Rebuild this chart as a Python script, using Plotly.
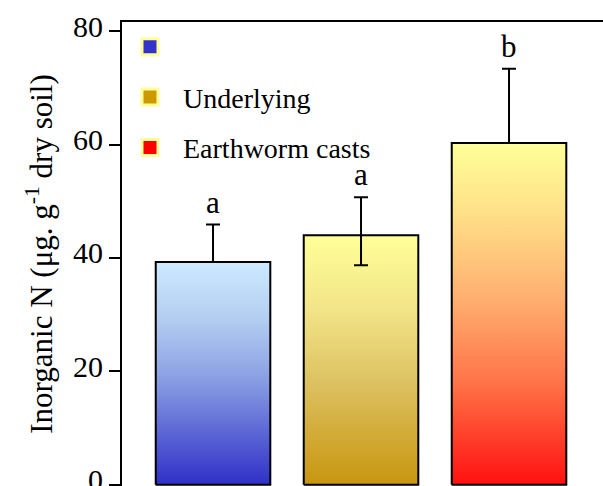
import plotly.graph_objects as go

# ---- data ----
categories = ["", "Underlying", "Earthworm casts"]
values = [39.3, 44.0, 60.25]
err_plus = [6.6, 6.7, 13.1]
err_minus = [0.0, 5.3, 0.0]
letters = ["a", "a", "b"]
y_ticks = [0, 20, 40, 60, 80]

# ---- styles ----
legend_colors = ["#3333cc", "#cc9900", "#ff0000"]
gradients = [
    [[0, "#3030c8"], [0.5, "#8ea4e4"], [0.75, "#b4cef2"], [1, "#cdeaff"]],
    [[0, "#c8960f"], [0.4, "#dcc060"], [0.7, "#f2e488"], [1, "#ffff99"]],
    [[0, "#ff1010"], [0.3, "#ff7448"], [0.55, "#ffb070"], [0.8, "#ffe088"], [1, "#ffff99"]],
]
bar_width = 0.774
FONT = "Liberation Serif"

fig = go.Figure()

# gradient bars (filled rectangles built from the data values)
for i, (v, cs) in enumerate(zip(values, gradients)):
    x0, x1 = i - bar_width / 2, i + bar_width / 2
    fig.add_trace(go.Scatter(
        x=[x0, x1, x1, x0, x0], y=[0, 0, v, v, 0],
        mode="lines", fill="toself",
        fillgradient=dict(type="vertical", colorscale=cs, start=0, stop=v),
        line=dict(color="black", width=2),
        showlegend=False, hoverinfo="skip",
    ))

# error bars
fig.add_trace(go.Scatter(
    x=list(range(len(values))), y=values, mode="markers",
    marker=dict(size=1, color="rgba(0,0,0,0)"),
    error_y=dict(type="data", symmetric=False, array=err_plus, arrayminus=err_minus,
                 color="black", thickness=2, width=7),
    showlegend=False, hoverinfo="skip",
))

# legend entries
for i, (name, c) in enumerate(zip(categories, legend_colors)):
    fig.add_trace(go.Scatter(
        x=[None], y=[None], mode="markers", name=name if name else " ",
        legendgroup=f"g{i}",
        marker=dict(symbol="square", size=20, color=c, line=dict(color="#ffff99", width=3)),
    ))

# significance letters
for i, (v, e, t) in enumerate(zip(values, err_plus, letters)):
    fig.add_annotation(x=i, y=v + e, text=t, showarrow=False, yanchor="bottom",
                       yshift=3, font=dict(family=FONT, size=31, color="black"))

fig.update_layout(
    width=603, height=486,
    margin=dict(l=122, r=0, t=22, b=0, pad=0),
    paper_bgcolor="white", plot_bgcolor="white",
    font=dict(family=FONT, color="black"),
    showlegend=True,
    legend=dict(x=-0.0104, y=1, xanchor="left", yanchor="top",
                font=dict(family=FONT, size=28, color="black"),
                itemwidth=56, tracegroupgap=11, bgcolor="rgba(0,0,0,0)",
                itemclick=False),
    xaxis=dict(range=[-0.615, 2.635], side="top", showline=True, linecolor="black",
               linewidth=2, showticklabels=False, ticks="", showgrid=False,
               zeroline=False, automargin=False),
    yaxis=dict(range=[-0.2, 81.6], tickvals=y_ticks, showline=True, linecolor="black",
               linewidth=2, ticks="outside", ticklen=11, tickwidth=2, tickcolor="black",
               ticklabeloverflow="allow", ticklabelshift=-5,
               tickfont=dict(family=FONT, size=30, color="black"),
               showgrid=False, zeroline=False, automargin=False,
               title=dict(text="Inorganic N (μg. g<sup>-1</sup> dry soil)",
                          font=dict(family=FONT, size=31, color="black"), standoff=11)),
)

fig.write_html("out.html")
